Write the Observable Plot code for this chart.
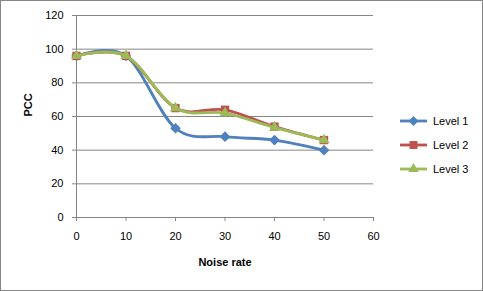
<!DOCTYPE html>
<html>
<head>
<meta charset="utf-8">
<script src="https://cdn.jsdelivr.net/npm/d3@7"></script>
<script src="https://cdn.jsdelivr.net/npm/@observablehq/plot@0.6"></script>
<style>
  body { margin: 0; background: #fff; }
  #wrap { position: relative; width: 483px; height: 291px; font-family: "Liberation Sans", Arial, sans-serif; }
  #border { position: absolute; left: 0; top: 0; width: 483px; height: 291px; box-sizing: border-box; border: 1px solid #868686; pointer-events: none; }
  #legend { position: absolute; left: 400px; top: 109px; font-size: 11px; color: #000; }
  .item { display: flex; align-items: center; height: 24px; }
  .item svg { margin-right: 6px; }
</style>
</head>
<body>
<div id="wrap"><div id="legend"></div><div id="border"></div></div>
<script>
const noiseRates = [0, 10, 20, 30, 40, 50];
const level1 = [96, 96, 53, 48, 46, 40];
const level2 = [96, 96, 65, 64, 54, 46];
const level3 = [96, 96, 65, 62, 53.5, 46];
const seriesNames = ["Level 1", "Level 2", "Level 3"];
const seriesColors = ["#4F81BD", "#C0504D", "#9BBB59"];
const seriesSymbols = ["diamond2", "square2", "triangle2"];
const xTicks = [0, 10, 20, 30, 40, 50, 60];
const yTicks = [0, 20, 40, 60, 80, 100, 120];

const allValues = [level1, level2, level3];
const data = [];
allValues.forEach((vals, s) => vals.forEach((v, i) => data.push({series: seriesNames[s], x: noiseRates[i], y: v})));

const marks = [
  Plot.gridY(yTicks, {stroke: "#868686", strokeOpacity: 1}),
  Plot.ruleX([0], {stroke: "#868686"}),
  Plot.axisX(xTicks, {tickSize: 4, tickPadding: 11, stroke: "#868686", fontSize: 11, fill: "#000", label: null}),
  Plot.axisY(yTicks, {tickSize: 4, tickPadding: 9, stroke: "#868686", fontSize: 11, fill: "#000", label: null}),
  Plot.text(["PCC"], {frameAnchor: "left", dx: -48, rotate: -90, fontWeight: "bold", fontSize: 11}),
  Plot.text(["Noise rate"], {frameAnchor: "bottom", dy: 48, fontWeight: "bold", fontSize: 11})
];
seriesNames.forEach((name, s) => {
  const d = data.filter(r => r.series === name);
  marks.push(Plot.line(d, {x: "x", y: "y", stroke: seriesColors[s], strokeWidth: 2.8, curve: "cardinal"}));
  marks.push(Plot.dot(d, {x: "x", y: "y", symbol: seriesSymbols[s], fill: seriesColors[s], r: s === 0 ? 4.8 : 5.3, stroke: "none"}));
});

const chart = Plot.plot({
  width: 483,
  height: 291,
  marginLeft: 76,
  marginRight: 110,
  marginTop: 15,
  marginBottom: 74,
  style: {fontFamily: "Liberation Sans, Arial, sans-serif", fontSize: "11px", background: "#fff"},
  x: {domain: [0, 60], axis: null, label: null},
  y: {domain: [0, 120], axis: null, label: null},
  marks
});
const wrap = document.getElementById("wrap");
wrap.insertBefore(chart, wrap.firstChild);

const legend = document.getElementById("legend");
const sym = {diamond2: d3.symbolDiamond2, square2: d3.symbolSquare2, triangle2: d3.symbolTriangle2};
seriesNames.forEach((name, s) => {
  const item = document.createElement("div");
  item.className = "item";
  const svg = d3.create("svg").attr("width", 27).attr("height", 12);
  svg.append("line").attr("x1", 0).attr("x2", 27).attr("y1", 6).attr("y2", 6).attr("stroke", seriesColors[s]).attr("stroke-width", 2.8);
  svg.append("path").attr("transform", "translate(13.5,6)").attr("d", d3.symbol(sym[seriesSymbols[s]], s === 0 ? 64 : 80)()).attr("fill", seriesColors[s]);
  item.appendChild(svg.node());
  const t = document.createElement("span");
  t.textContent = name;
  item.appendChild(t);
  legend.appendChild(item);
});
</script>
</body>
</html>
